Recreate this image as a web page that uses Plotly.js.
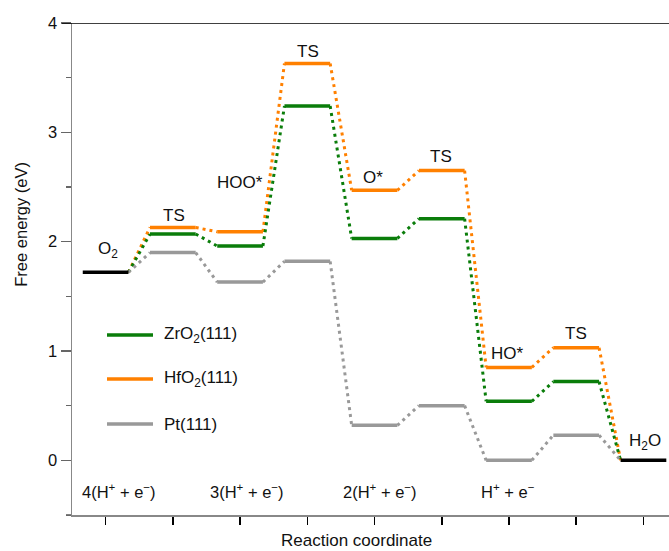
<!DOCTYPE html>
<html>
<head>
<meta charset="utf-8">
<script src="https://cdn.plot.ly/plotly-3.0.1.min.js"></script>
<style>html,body{margin:0;padding:0;background:#fff;}#chart{width:669px;height:551px;}</style>
</head>
<body>
<div id="chart"></div>
<script>
// Reaction-step positions (x) and free energies (eV)
const steps = [1, 2, 3, 4, 5, 6, 7, 8, 9];
const stateNames = ["O<sub>2</sub>", "TS", "HOO*", "TS", "O*", "TS", "HO*", "TS", "H<sub>2</sub>O"];
const zrO2 = [1.72, 2.07, 1.96, 3.24, 2.03, 2.21, 0.54, 0.72, 0.00];
const hfO2 = [1.72, 2.13, 2.09, 3.63, 2.47, 2.65, 0.85, 1.03, 0.00];
const pt111 = [1.72, 1.90, 1.63, 1.82, 0.32, 0.50, 0.00, 0.23, 0.00];
const seriesNames = ["ZrO<sub>2</sub>(111)", "HfO<sub>2</sub>(111)", "Pt(111)"];
const protonLabels = ["4(H<sup>+</sup> + e<sup>−</sup>)", "3(H<sup>+</sup> + e<sup>−</sup>)", "2(H<sup>+</sup> + e<sup>−</sup>)", "H<sup>+</sup> + e<sup>−</sup>"];
const protonPos = [1.2, 3.1, 5.08, 6.98];
const yTicks = [0, 1, 2, 3, 4];

const colors = {zr: "#0a7d0a", hf: "#ff8000", pt: "#999999", end: "#000000"};
const HALF = 0.34;
const FONT = "Liberation Sans, Arial, Helvetica, sans-serif";

function levels(vals, idx) {
  const x = [], y = [];
  idx.forEach(i => { x.push(steps[i] - HALF, steps[i] + HALF, null); y.push(vals[i], vals[i], null); });
  return {x, y};
}
function connectors(vals) {
  const x = [], y = [];
  for (let i = 0; i < steps.length - 1; i++) {
    x.push(steps[i] + HALF, steps[i + 1] - HALF, null);
    y.push(vals[i], vals[i + 1], null);
  }
  return {x, y};
}
const inner = [1, 2, 3, 4, 5, 6, 7];
const traces = [];
[[hfO2, colors.hf], [zrO2, colors.zr], [pt111, colors.pt]].forEach(([v, c]) => {
  const cn = connectors(v);
  traces.push({x: cn.x, y: cn.y, mode: "lines", line: {color: c, width: 3, dash: "3px,4px"}, showlegend: false, hoverinfo: "skip"});
});
[[hfO2, colors.hf], [zrO2, colors.zr], [pt111, colors.pt]].forEach(([v, c]) => {
  const lv = levels(v, inner);
  traces.push({x: lv.x, y: lv.y, mode: "lines", line: {color: c, width: 3.5}, showlegend: false, hoverinfo: "skip"});
});
const ends = levels(zrO2, [0, 8]);
traces.push({x: ends.x, y: ends.y, mode: "lines", line: {color: colors.end, width: 3.5}, showlegend: false, hoverinfo: "skip"});

// state labels (placed above the highest level of each step)
const labelOffset = [0.2, 0.11, 0.45, 0.105, 0.12, 0.13, 0.13, 0.13, 0.17];
const labelX = [1.03, 2.02, 3.0, 4.01, 4.98, 5.99, 6.98, 7.99, 9.02];
const annotations = [];
stateNames.forEach((t, i) => {
  const top = Math.max(zrO2[i], hfO2[i], pt111[i]);
  annotations.push({x: labelX[i], y: top + labelOffset[i], text: t, showarrow: false, font: {family: FONT, size: 17, color: "#111"}, xanchor: "center", yanchor: "middle"});
});
protonLabels.forEach((t, i) => {
  annotations.push({x: protonPos[i], y: -0.28, text: t, showarrow: false, font: {family: FONT, size: 16.5, color: "#111"}, xanchor: "center", yanchor: "middle"});
});
// axis titles
annotations.push({xref: "paper", yref: "paper", x: -51/597, y: 0.59, text: "Free energy (eV)", textangle: -90, showarrow: false, font: {family: FONT, size: 16.5, color: "#111"}, xanchor: "center", yanchor: "middle"});
annotations.push({xref: "paper", yref: "paper", x: (356-72)/597, y: -25/492, text: "Reaction coordinate", showarrow: false, font: {family: FONT, size: 17, color: "#111"}, xanchor: "center", yanchor: "middle"});

// legend (drawn manually)
const shapes = [];
const legColors = [colors.zr, colors.hf, colors.pt];
const legY = [335, 379, 424];
seriesNames.forEach((n, i) => {
  const yp = 1 - (legY[i] - 23) / 492;
  shapes.push({type: "line", xref: "paper", yref: "paper", x0: (107-72)/597, x1: (153-72)/597, y0: yp, y1: yp, line: {color: legColors[i], width: 3.5}});
  annotations.push({xref: "paper", yref: "paper", x: (162-72)/597, y: yp, text: n, showarrow: false, xanchor: "left", yanchor: "middle", font: {family: FONT, size: 17, color: "#111"}});
});
// top border line and small overhang of the bottom axis
shapes.push({type: "line", xref: "paper", yref: "y", x0: -10/597, x1: 1, y0: 4, y1: 4, line: {color: "#000", width: 1.5}});
shapes.push({type: "line", xref: "paper", yref: "y", x0: -6/597, x1: 0, y0: -0.5, y1: -0.5, line: {color: "#888", width: 1.5}});

const layout = {
  width: 669, height: 551,
  margin: {l: 72, r: 0, t: 23, b: 36, pad: 0},
  paper_bgcolor: "#fff", plot_bgcolor: "#fff",
  showlegend: false,
  font: {family: FONT, size: 16, color: "#111"},
  xaxis: {range: [0.5, 9.38], tickvals: steps, showticklabels: false, ticks: "outside", ticklen: 8, tickwidth: 1.5, tickcolor: "#000",
          showline: true, linecolor: "#888", linewidth: 1.5, showgrid: false, zeroline: false, fixedrange: true},
  yaxis: {range: [-0.5, 4], tickvals: yTicks, ticks: "outside", ticklen: 10, tickwidth: 1.5, tickcolor: "#666",
          minor: {dtick: 0.5, ticks: "outside", ticklen: 5, tickcolor: "#666", tickwidth: 1.2},
          showline: true, linecolor: "#888", linewidth: 1.5, showgrid: false, zeroline: false,
          tickfont: {family: FONT, size: 16.5, color: "#111"}, fixedrange: true},
  shapes, annotations
};
Plotly.newPlot("chart", traces, layout, {displayModeBar: false, staticPlot: true});
</script>
</body>
</html>
